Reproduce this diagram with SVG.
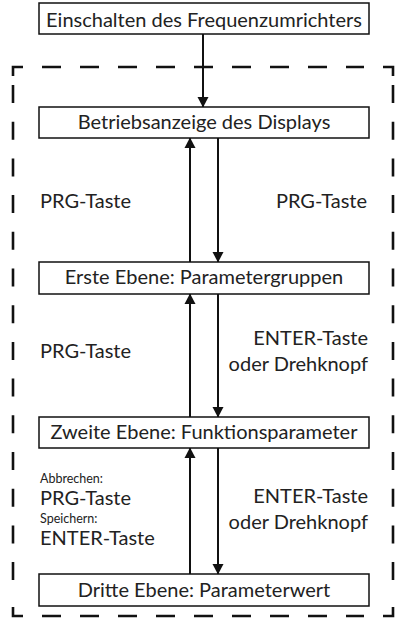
<svg xmlns="http://www.w3.org/2000/svg" width="401" height="620" viewBox="0 0 401 620">
  <defs>
    <style>
      .box { fill: #ffffff; stroke: #111111; stroke-width: 1.5; }
      .label { font-family: Lato, "Liberation Sans", sans-serif; font-size: 20px; fill: #222222; }
      .small { font-family: Lato, "Liberation Sans", sans-serif; font-size: 12.5px; fill: #222222; }
      .mid { text-anchor: middle; }
      .end { text-anchor: end; }
      .frame { stroke: #111111; stroke-width: 2.6; fill: none; }
      .link { stroke: #111111; stroke-width: 2; fill: none; marker-end: url(#arrow); }
    </style>
    <marker id="arrow" markerUnits="userSpaceOnUse" markerWidth="12" markerHeight="12" refX="10" refY="6" orient="auto">
      <path d="M0,0.5 L10.5,6 L0,11.5 Z" fill="#111111"/>
    </marker>
  </defs>

  <rect width="401" height="620" fill="#ffffff"/>

  <!-- dashed frame around the menu levels -->
  <g id="frame">
    <path class="frame" d="M13,76 V67 H23"/>
    <path class="frame" d="M383,67 H393 V76"/>
    <path class="frame" d="M13,607 V616 H23"/>
    <path class="frame" d="M383,616 H393 V607"/>
    <line class="frame" x1="42" y1="67" x2="364" y2="67" stroke-dasharray="19 19"/>
    <line class="frame" x1="42" y1="616" x2="364" y2="616" stroke-dasharray="19 19"/>
    <line class="frame" x1="13" y1="85" x2="13" y2="598" stroke-dasharray="18 18.7"/>
    <line class="frame" x1="393" y1="85" x2="393" y2="598" stroke-dasharray="18 18.7"/>
  </g>

  <!-- connectors -->
  <g id="connectors">
    <line class="link" x1="203" y1="34" x2="203" y2="107"/>
    <line class="link" x1="190" y1="262" x2="190" y2="138"/>
    <line class="link" x1="218" y1="138" x2="218" y2="262"/>
    <line class="link" x1="190" y1="417" x2="190" y2="294"/>
    <line class="link" x1="218" y1="294" x2="218" y2="417"/>
    <line class="link" x1="190" y1="574" x2="190" y2="448"/>
    <line class="link" x1="218" y1="448" x2="218" y2="574"/>
  </g>

  <!-- nodes -->
  <g id="power-on">
    <rect class="box" x="39" y="3" width="330" height="31"/>
    <text class="label mid" x="204" y="27">Einschalten des Frequenzumrichters</text>
  </g>
  <g id="display">
    <rect class="box" x="39" y="107" width="330" height="31"/>
    <text class="label mid" x="204" y="129">Betriebsanzeige des Displays</text>
  </g>
  <g id="level1">
    <rect class="box" x="39" y="262" width="330" height="32"/>
    <text class="label mid" x="204" y="284">Erste Ebene: Parametergruppen</text>
  </g>
  <g id="level2">
    <rect class="box" x="39" y="417" width="330" height="31"/>
    <text class="label mid" x="204" y="439">Zweite Ebene: Funktionsparameter</text>
  </g>
  <g id="level3">
    <rect class="box" x="39" y="574" width="330" height="32"/>
    <text class="label mid" x="204" y="597">Dritte Ebene: Parameterwert</text>
  </g>

  <!-- key labels -->
  <g id="labels">
    <text class="label" x="40" y="208">PRG-Taste</text>
    <text class="label end" x="367" y="208">PRG-Taste</text>
    <text class="label" x="40" y="358">PRG-Taste</text>
    <text class="label end" x="368" y="345">ENTER-Taste</text>
    <text class="label end" x="368" y="371">oder Drehknopf</text>
    <text class="small" x="40" y="483">Abbrechen:</text>
    <text class="label" x="40" y="505">PRG-Taste</text>
    <text class="small" x="40" y="523">Speichern:</text>
    <text class="label" x="40" y="545">ENTER-Taste</text>
    <text class="label end" x="368" y="503">ENTER-Taste</text>
    <text class="label end" x="368" y="529">oder Drehknopf</text>
  </g>
</svg>
